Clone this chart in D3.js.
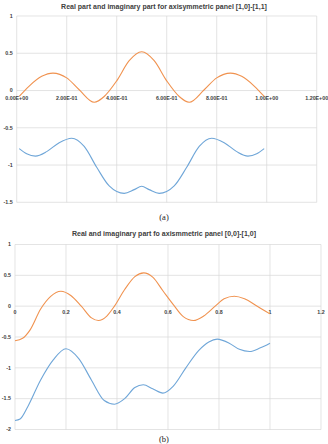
<!DOCTYPE html>
<html>
<head>
<meta charset="utf-8">
<script src="https://cdn.jsdelivr.net/npm/d3@7"></script>
<style>
  body { margin: 0; background: #fff; }
  svg { display: block; }
  .title { font-family: "Liberation Sans", Arial, sans-serif; font-weight: bold; fill: #404040; }
  .tickText { font-family: "Liberation Sans", Arial, sans-serif; font-weight: bold; font-size: 5.3px; fill: #404040; }
  .caption { font-family: "Liberation Serif", "DejaVu Serif", serif; font-size: 8.5px; fill: #222; }
</style>
</head>
<body>
<div id="chart"></div>
<script>
// panel (a) data
let xA_real = [0.01, 0.05, 0.1, 0.145, 0.2, 0.25, 0.31, 0.35, 0.4, 0.45, 0.5, 0.55, 0.6, 0.65, 0.69, 0.75, 0.8, 0.855, 0.9, 0.95, 0.99]
let yA_real = [-0.08, 0.06, 0.19, 0.234, 0.17, 0.01, -0.158, -0.08, 0.13, 0.4, 0.52, 0.4, 0.13, -0.08, -0.158, 0.01, 0.17, 0.234, 0.19, 0.06, -0.08]

let xA_imag = [0.01, 0.04, 0.075, 0.12, 0.17, 0.22, 0.27, 0.32, 0.37, 0.43, 0.47, 0.5, 0.53, 0.57, 0.63, 0.68, 0.73, 0.78, 0.83, 0.88, 0.925, 0.96, 0.99]
let yA_imag = [-0.78, -0.85, -0.88, -0.82, -0.7, -0.64, -0.75, -1.03, -1.28, -1.38, -1.33, -1.285, -1.33, -1.38, -1.28, -1.03, -0.75, -0.64, -0.7, -0.82, -0.88, -0.85, -0.78]

// panel (b) data
let xB_real = [0, 0.03, 0.06, 0.1, 0.14, 0.18, 0.22, 0.26, 0.3, 0.327, 0.36, 0.39, 0.43, 0.47, 0.505, 0.54, 0.58, 0.62, 0.66, 0.7, 0.74, 0.785, 0.82, 0.86, 0.9, 0.95, 1.0]
let yB_real = [-0.56, -0.52, -0.38, -0.05, 0.16, 0.243, 0.17, 0.0, -0.19, -0.233, -0.16, 0.0, 0.27, 0.48, 0.54, 0.47, 0.25, 0.03, -0.17, -0.233, -0.16, 0.0, 0.12, 0.16, 0.12, 0.0, -0.125]

let xB_imag = [0, 0.02, 0.05, 0.1, 0.15, 0.2, 0.25, 0.3, 0.35, 0.39, 0.43, 0.47, 0.503, 0.54, 0.58, 0.62, 0.67, 0.72, 0.76, 0.793, 0.84, 0.88, 0.92, 0.96, 1.0]
let yB_imag = [-1.855, -1.83, -1.63, -1.2, -0.87, -0.69, -0.85, -1.2, -1.53, -1.59, -1.5, -1.32, -1.275, -1.34, -1.41, -1.3, -1.0, -0.72, -0.58, -0.535, -0.6, -0.7, -0.735, -0.68, -0.6]

let xTicks = [0, 0.2, 0.4, 0.6, 0.8, 1.0, 1.2]
let yTicksA = [1, 0.5, 0, -0.5, -1, -1.5]
let yTicksB = [1, 0.5, 0, -0.5, -1, -1.5, -2]

let titleA = "Real part and imaginary part for axisymmetric panel [1,0]-[1,1]"
let titleB = "Real and imaginary part fo axismmetric panel [0,0]-[1,0]"

let width = 328
let height = 444

let svg = d3.select("#chart")
    .append("svg")
    .attr("width", width)
    .attr("height", height)

function sciFormat(v){
    if(v === 0) return "0.00E+00"
    let e = Math.floor(Math.log10(Math.abs(v)) + 1e-9)
    let m = v / Math.pow(10, e)
    let sign = e < 0 ? "-" : "+"
    return m.toFixed(2) + "E" + sign + String(Math.abs(e)).padStart(2, "0")
}

function drawPanel(opt){
    let g = svg.append("g")

    let xScale = d3.scaleLinear().domain([0, 1.2]).range([opt.left, opt.right])
    let yScale = d3.scaleLinear().domain(opt.yDomain).range([opt.bottom, opt.top])

    g.append("text")
        .attr("class", "title")
        .attr("x", width / 2)
        .attr("y", opt.titleY)
        .attr("text-anchor", "middle")
        .attr("font-size", opt.titleSize)
        .text(opt.title)

    // grid
    g.selectAll(".hgrid").data(opt.yTicks).enter()
        .append("line")
        .attr("x1", opt.left).attr("x2", opt.right)
        .attr("y1", d => yScale(d)).attr("y2", d => yScale(d))
        .attr("stroke", "#d9d9d9").attr("stroke-width", 0.7)

    g.selectAll(".vgrid").data(xTicks).enter()
        .append("line")
        .attr("x1", d => xScale(d)).attr("x2", d => xScale(d))
        .attr("y1", opt.top).attr("y2", opt.bottom)
        .attr("stroke", "#d9d9d9").attr("stroke-width", 0.7)

    // tick labels
    g.selectAll(".ylab").data(opt.yTicks).enter()
        .append("text")
        .attr("class", "tickText")
        .attr("x", opt.left - 4)
        .attr("y", d => yScale(d) + 1.8)
        .attr("text-anchor", "end")
        .text(d => d)

    g.selectAll(".xlab").data(xTicks).enter()
        .append("text")
        .attr("class", "tickText")
        .attr("x", d => xScale(d))
        .attr("y", yScale(0) + opt.xLabelOffset)
        .attr("text-anchor", "middle")
        .text(opt.xFormat)

    let line = d3.line()
        .x(d => xScale(d[0]))
        .y(d => yScale(d[1]))
        .curve(d3.curveMonotoneX)

    g.append("path")
        .datum(d3.zip(opt.xReal, opt.yReal))
        .attr("d", line)
        .attr("fill", "none")
        .attr("stroke", "#f0924f")
        .attr("stroke-width", 1.1)

    g.append("path")
        .datum(d3.zip(opt.xImag, opt.yImag))
        .attr("d", line)
        .attr("fill", "none")
        .attr("stroke", "#6fa6d8")
        .attr("stroke-width", 1.1)

    g.append("text")
        .attr("class", "caption")
        .attr("x", width / 2)
        .attr("y", opt.captionY)
        .attr("text-anchor", "middle")
        .text(opt.caption)
}

drawPanel({
    title: titleA, titleY: 9, titleSize: 7,
    left: 16.7, right: 316.7, top: 16, bottom: 202.3,
    yDomain: [-1.5, 1], yTicks: yTicksA,
    xFormat: sciFormat, xLabelOffset: 9.5,
    xReal: xA_real, yReal: yA_real, xImag: xA_imag, yImag: yA_imag,
    caption: "(a)", captionY: 219.5
})

drawPanel({
    title: titleB, titleY: 235.5, titleSize: 7,
    left: 15, right: 321, top: 244.5, bottom: 429.5,
    yDomain: [-2, 1], yTicks: yTicksB,
    xFormat: d => d, xLabelOffset: 7.5,
    xReal: xB_real, yReal: yB_real, xImag: xB_imag, yImag: yB_imag,
    caption: "(b)", captionY: 441.5
})
</script>
</body>
</html>
